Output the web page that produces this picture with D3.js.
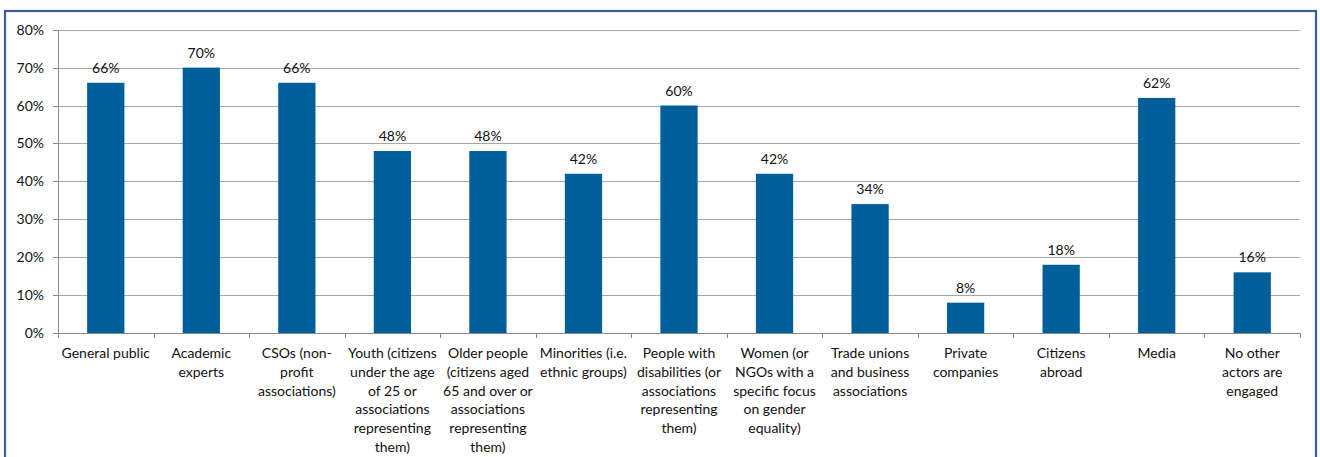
<!DOCTYPE html>
<html><head><meta charset="utf-8">
<script src="https://cdn.jsdelivr.net/npm/d3@7"></script>
<style>
html,body{margin:0;padding:0;background:#fff;}
svg{display:block;font-family:"Lato","Open Sans",sans-serif;}
</style></head>
<body>
<svg id="c" width="1320" height="457"></svg>
<script>
const categories = [
  ["General public"],
  ["Academic","experts"],
  ["CSOs (non-","profit","associations)"],
  ["Youth (citizens","under the age","of 25 or","associations","representing","them)"],
  ["Older people","(citizens aged","65 and over or","associations","representing","them)"],
  ["Minorities (i.e.","ethnic groups)"],
  ["People with","disabilities (or","associations","representing","them)"],
  ["Women (or","NGOs with a","specific focus","on gender","equality)"],
  ["Trade unions","and business","associations"],
  ["Private","companies"],
  ["Citizens","abroad"],
  ["Media"],
  ["No other","actors are","engaged"]
];
const values = [66, 70, 66, 48, 48, 42, 60, 42, 34, 8, 18, 62, 16];
const yTicks = [0, 10, 20, 30, 40, 50, 60, 70, 80];

(function(){
const svg = d3.select("#c");
svg.append("rect").attr("x",5).attr("y",11).attr("width",1311).attr("height",460)
  .attr("fill","none").attr("stroke","#3B5E94").attr("stroke-width",2.2);

const pL = 58, pR = 1300, pT = 29.7, pB = 333;
const fs = "14px";
const x = d3.scaleBand().domain(d3.range(categories.length)).range([pL,pR]).paddingInner(0.61).paddingOuter(0.305);
const xb = d3.scaleBand().domain(d3.range(categories.length)).range([pL,pR]);
const y = d3.scaleLinear().domain([0,80]).range([pB,pT]);

svg.append("g").selectAll("line").data(yTicks.filter(d=>d>0)).join("line")
  .attr("x1",pL).attr("x2",pR).attr("y1",d=>Math.round(y(d))+0.5).attr("y2",d=>Math.round(y(d))+0.5)
  .attr("stroke","#a6a6a6").attr("stroke-width",1);

const ya = svg.append("g").attr("transform",`translate(${pL},0)`)
  .call(d3.axisLeft(y).tickValues(yTicks).tickFormat(d=>d+"%").tickSize(5).tickPadding(9));
ya.select(".domain").attr("stroke","#888").attr("shape-rendering","crispEdges");
ya.selectAll(".tick line").attr("stroke","#888").attr("shape-rendering","crispEdges");
ya.selectAll("text").attr("font-size",fs).attr("fill","#111").attr("font-family","Lato, sans-serif");

svg.append("g").selectAll("rect").data(values).join("rect")
  .attr("x",(d,i)=>x(i)).attr("width",x.bandwidth())
  .attr("y",d=>y(d)).attr("height",d=>pB-y(d)).attr("fill","#005F99");

svg.append("g").selectAll("text").data(values).join("text")
  .attr("x",(d,i)=>x(i)+x.bandwidth()/2).attr("y",d=>y(d)-10)
  .attr("text-anchor","middle").attr("font-size",fs).attr("fill","#111")
  .text(d=>d+"%");

svg.append("line").attr("x1",pL).attr("x2",pR).attr("y1",pB+0.5).attr("y2",pB+0.5)
  .attr("stroke","#888");
svg.append("g").selectAll("line").data(d3.range(categories.length+1)).join("line")
  .attr("x1",i=>Math.round(pL+i*xb.bandwidth())+0.5).attr("x2",i=>Math.round(pL+i*xb.bandwidth())+0.5)
  .attr("y1",pB).attr("y2",pB+5).attr("stroke","#888");

const cl = svg.append("g").selectAll("text").data(categories).join("text")
  .attr("x",(d,i)=>xb(i)+xb.bandwidth()/2).attr("y",358)
  .attr("text-anchor","middle").attr("font-size",fs).attr("fill","#111");
cl.each(function(lines){
  const t = d3.select(this);
  lines.forEach((l,k)=>{
    t.append("tspan").attr("x",t.attr("x")).attr("dy",k===0?0:18.8).text(l);
  });
});
})();
</script>
</body></html>
